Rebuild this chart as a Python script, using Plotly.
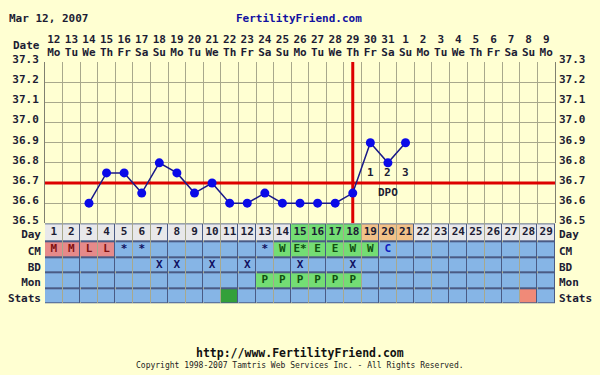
import plotly.graph_objects as go

# ---------------- data ----------------
days = list(range(1, 30))
dates = [str(d) for d in range(12, 32)] + [str(d) for d in range(1, 10)]
weekdays = ["Mo", "Tu", "We", "Th", "Fr", "Sa", "Su"] * 4 + ["Mo"]
temps = [None, None, 36.6, 36.75, 36.75, 36.65, 36.8, 36.75, 36.65, 36.7,
         36.6, 36.6, 36.65, 36.6, 36.6, 36.6, 36.6, 36.65, 36.9, 36.8, 36.9] + [None] * 8
coverline = 36.7
ovulation_day = 18
dpo_labels = ["1", "2", "3"]
dpo_days = [19, 20, 21]
temp_ticks = [36.5, 36.6, 36.7, 36.8, 36.9, 37.0, 37.1, 37.2, 37.3]

cm_text = ["M", "M", "L", "L", "*", "*", "", "", "", "", "", "", "*", "W", "E*", "E", "E", "W", "W", "C"] + [""] * 9
bd_text = ["", "", "", "", "", "", "X", "X", "", "X", "", "X", "", "", "X", "", "", "X"] + [""] * 11
mon_text = [""] * 12 + ["P"] * 6 + [""] * 11
row_labels = ["Stats", "Mon", "BD", "CM", "Day"]
row_edges = [0, 1, 2, 3, 4, 5.2]

# cell colour categories per row (codes into palette)
day_cat = [1] * 14 + [2] * 4 + [3] * 3 + [1] * 8
cm_cat = [4] * 4 + [0] * 9 + [2] * 6 + [0] * 10
bd_cat = [0] * 29
mon_cat = [0] * 12 + [2] * 6 + [0] * 11
stats_cat = [0] * 10 + [5] + [0] * 16 + [6] + [0]

palette = ["#86b5e6", "#e8e8ea", "#74dd74", "#f2c188", "#e68a8a", "#33a03a", "#f08a78"]

cm_color = {"M": "#801010", "L": "#801010", "*": "#101060", "W": "#105010",
            "E*": "#105010", "E": "#105010", "C": "#1020c0", "": "#000"}

# ---------------- figure ----------------
FONT = "DejaVu Sans Mono"
INK = "#1c1c34"
n = len(palette)
cscale = []
for i, c in enumerate(palette):
    cscale.append([i / n, c])
    cscale.append([(i + 1) / n, c])

row_centers = [(row_edges[i] + row_edges[i + 1]) / 2 for i in range(5)]
x_lo, x_hi = days[0] - 0.5, days[-1] + 0.5

fig = go.Figure()

fig.add_trace(go.Heatmap(
    x=days, y=row_edges,
    z=[stats_cat, mon_cat, bd_cat, cm_cat, day_cat],
    zmin=-0.5, zmax=n - 0.5, colorscale=cscale, showscale=False,
    xgap=1, ygap=2, hoverinfo="skip", xaxis="x", yaxis="y2"))

tf = dict(size=11, family=FONT, weight="bold")
fig.add_trace(go.Scatter(x=days, y=[row_centers[4]] * 29, text=[str(d) for d in days], mode="text",
                         textfont=dict(color=INK, **tf), xaxis="x", yaxis="y2", hoverinfo="skip"))
fig.add_trace(go.Scatter(x=days, y=[row_centers[3]] * 29, text=cm_text, mode="text",
                         textfont=dict(color=[cm_color[t] for t in cm_text], **tf),
                         xaxis="x", yaxis="y2", hoverinfo="skip"))
fig.add_trace(go.Scatter(x=days, y=[row_centers[2]] * 29, text=bd_text, mode="text",
                         textfont=dict(color="#101060", **tf), xaxis="x", yaxis="y2", hoverinfo="skip"))
fig.add_trace(go.Scatter(x=days, y=[row_centers[1]] * 29, text=mon_text, mode="text",
                         textfont=dict(color="#105010", **tf), xaxis="x", yaxis="y2", hoverinfo="skip"))

# coverline and ovulation line (drawn under the temperatures)
fig.add_trace(go.Scatter(x=[x_lo, x_hi], y=[coverline, coverline], mode="lines",
                         line=dict(color="#dd0000", width=3), xaxis="x", yaxis="y",
                         hoverinfo="skip", cliponaxis=False))
fig.add_trace(go.Scatter(x=[ovulation_day, ovulation_day], y=[temp_ticks[0], temp_ticks[-1]],
                         mode="lines", line=dict(color="#dd0000", width=3), xaxis="x", yaxis="y",
                         hoverinfo="skip", cliponaxis=False))

# temperatures
fig.add_trace(go.Scatter(x=days, y=temps, mode="lines+markers",
                         line=dict(color="#1a1a88", width=1.5),
                         marker=dict(color="#0a0ae8", size=9),
                         xaxis="x", yaxis="y", hoverinfo="skip"))

# invisible companions so that the overlaying label axes get drawn
fig.add_trace(go.Scatter(x=days, y=temps, mode="markers", marker=dict(opacity=0),
                         xaxis="x2", yaxis="y3", hoverinfo="skip"))
fig.add_trace(go.Scatter(x=days, y=[row_centers[0]] * 29, mode="markers", marker=dict(opacity=0),
                         xaxis="x", yaxis="y4", hoverinfo="skip"))

ax_font = dict(family=FONT, size=11, color=INK, weight="bold")
grid = "#a8a88c"
bg = "#ffffd2"
y_dom = [1 - 222 / 375, 1 - 55 / 375]
t_dom = [1 - 305 / 375, 1 - 222 / 375]

fig.update_layout(
    width=600, height=375, margin=dict(l=0, r=0, t=0, b=0),
    paper_bgcolor=bg, plot_bgcolor=bg, showlegend=False,
    font=dict(family=FONT, size=11, color=INK, weight="bold"),
    xaxis=dict(domain=[45 / 600, 555 / 600], range=[x_lo, x_hi], anchor="y", side="top",
               tickvals=days, ticktext=dates, ticks="", showgrid=False, zeroline=False,
               tickfont=ax_font, ticklabelstandoff=16,
               minor=dict(tickvals=[d + 0.5 for d in range(0, 30)], showgrid=True,
                          gridcolor=grid, gridwidth=1)),
    xaxis2=dict(overlaying="x", domain=[45 / 600, 555 / 600], range=[x_lo, x_hi], anchor="y",
                side="top", tickvals=days, ticktext=weekdays, ticks="", showgrid=False,
                zeroline=False, tickfont=ax_font, ticklabelstandoff=3),
    yaxis=dict(domain=y_dom, range=[36.5, 37.3], anchor="x", tickvals=temp_ticks,
               tickformat=".1f", ticks="", showgrid=True, gridcolor=grid, zeroline=False,
               tickfont=ax_font, ticklabelstandoff=3, ticklabelshift=-3, showline=True,
               linecolor="#808070", mirror=True),
    yaxis3=dict(overlaying="y", range=[36.5, 37.3], side="right", anchor="x2", tickvals=temp_ticks,
                tickformat=".1f", ticks="", showgrid=False, zeroline=False,
                tickfont=ax_font, ticklabelstandoff=3, ticklabelshift=-3),
    yaxis2=dict(domain=t_dom, range=[row_edges[0], row_edges[-1]], anchor="x",
                tickvals=row_centers, ticktext=row_labels, ticks="", showgrid=False,
                zeroline=False, tickfont=ax_font, ticklabelstandoff=3, ticklabelshift=2),
    yaxis4=dict(overlaying="y2", range=[row_edges[0], row_edges[-1]], side="right", anchor="x",
                tickvals=row_centers, ticktext=row_labels, ticks="", showgrid=False,
                zeroline=False, tickfont=ax_font, ticklabelstandoff=3, ticklabelshift=2),
)

# table background (grid lines between cells)
fig.add_shape(type="rect", xref="x", yref="y2", x0=x_lo, x1=x_hi,
              y0=row_edges[0], y1=row_edges[-1],
              fillcolor="#4a5b85", line=dict(width=0), layer="below")

ann = []
for lab, d in zip(dpo_labels, dpo_days):
    ann.append(dict(x=d, y=coverline, xref="x", yref="y", text=lab, showarrow=False,
                    yanchor="bottom", yshift=2, font=ax_font))
ann.append(dict(x=dpo_days[1], y=coverline, xref="x", yref="y", text="DPO", showarrow=False,
                yanchor="top", yshift=-1, font=ax_font))
ann.append(dict(x=42 / 600, y=1 - 38 / 375, xref="paper", yref="paper", text="Date",
                showarrow=False, xanchor="right", yanchor="middle", font=ax_font))
ann.append(dict(x=7 / 600, y=1 - 10 / 375, xref="paper", yref="paper", text="Mar 12, 2007",
                showarrow=False, xanchor="left", yanchor="middle", font=ax_font))
ann.append(dict(x=299 / 600, y=1 - 10 / 375, xref="paper", yref="paper", text="FertilityFriend.com",
                showarrow=False, xanchor="center", yanchor="middle",
                font=dict(family=FONT, size=11, color="#1010a0", weight="bold")))
ann.append(dict(x=0.5, y=1 - 356 / 375, xref="paper", yref="paper",
                text="http://www.FertilityFriend.com", showarrow=False, xanchor="center",
                yanchor="middle", font=dict(family=FONT, size=11.5, color="#111111", weight="bold")))
ann.append(dict(x=0.5, y=1 - 369 / 375, xref="paper", yref="paper",
                text="Copyright 1998-2007 Tamtris Web Services Inc. - All Rights Reserved.",
                showarrow=False, xanchor="center", yanchor="middle",
                font=dict(family=FONT, size=8, color="#222222", weight="normal")))
fig.update_layout(annotations=ann)

fig.write_html("out.html")
